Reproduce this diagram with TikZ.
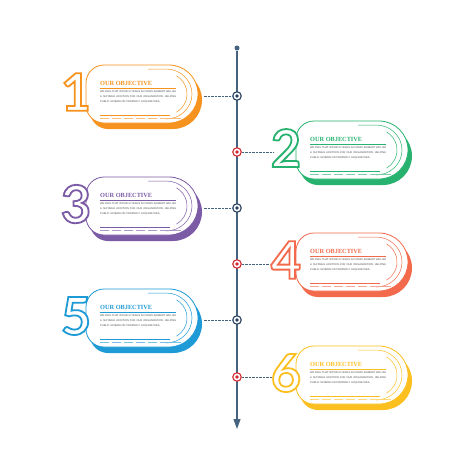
\documentclass[tikz,border=0pt]{standalone}
\usepackage{fontspec}
\setmainfont{Liberation Sans}
\newfontfamily\digitfont{Lato}
\newfontfamily\titlefont{Liberation Serif}
\usetikzlibrary{arrows.meta}
\definecolor{cOrange}{HTML}{F6921E}
\definecolor{cGreen}{HTML}{27B36F}
\definecolor{cPurple}{HTML}{7B5AA6}
\definecolor{cCoral}{HTML}{F26A4B}
\definecolor{cBlue}{HTML}{1E9AD6}
\definecolor{cYellow}{HTML}{FBC020}
\definecolor{lineblue}{HTML}{45627F}
\definecolor{dotnavy}{HTML}{253F5E}
\definecolor{dotred}{HTML}{D3282E}
\definecolor{bodygray}{HTML}{4A4A4A}
\newcommand{\capsule}[3]{(#1+18,#2) -- (#1+83,#2)
  arc[start angle=-90,end angle=90,radius=29] -- (#1+18,#3)
  arc[start angle=90,end angle=180,radius=18] -- (#1,#2+18)
  arc[start angle=180,end angle=270,radius=18] -- cycle}
\newcommand{\hollow}[1]{\special{pdf:literal direct 1 Tr 1.8 w}#1\special{pdf:literal direct 0 Tr}}
\begin{document}
\begin{tikzpicture}[x=1pt,y=-1pt,
    timeline/.style={draw=lineblue,line width=1.1pt},
    topdot/.style={circle,fill=lineblue,inner sep=0,minimum size=5pt},
    ring/.style={circle,draw=#1,fill=white,line width=1.1pt,inner sep=0,minimum size=8.5pt},
    link/.style={draw=lineblue,line width=0.5pt,dash pattern=on 0.7pt off 0.7pt},
    digit/.style={font=\digitfont\bfseries\fontsize{52}{52}\selectfont,inner sep=0},
    title/.style={font=\titlefont\bfseries\fontsize{6.3}{6.3}\selectfont,inner sep=0,anchor=west},
    body/.style={font=\fontsize{2.6}{5}\selectfont,text=bodygray,inner sep=0,
      anchor=north west,text width=76pt,align=justify}]
  \useasboundingbox[fill=white] (0,0) rectangle (474,474);
  \node[topdot] (top) at (237,48) {};
  \coordinate (tip) at (237,429);
  \draw[timeline,-{Triangle[width=7pt,length=10pt]}] (top) -- (tip);
  \foreach \i/\cy/\side/\col/\dot in {1/96/0/cOrange/dotnavy,
      2/152/1/cGreen/dotred, 3/208/0/cPurple/dotnavy,
      4/264/1/cCoral/dotred, 5/320/0/cBlue/dotnavy,
      6/377/1/cYellow/dotred}{
    \pgfmathsetmacro\xo{86+210*\side}
    \pgfmathsetmacro\tp{\cy-31}
    \pgfmathsetmacro\bt{\cy+27}
    \pgfmathsetmacro\ex{\side==0 ? \xo+117 : \xo-22}
    \coordinate (e\i) at (\ex,\cy);
    \node[ring=\dot] (c\i) at (237,\cy) {};
    \fill[\dot] (c\i) circle (1.8);
    \draw[link] (c\i) -- (e\i);
    \begin{scope}[shift={(4,6)}]
      \fill[\col] \capsule{\xo}{\tp}{\bt};
    \end{scope}
    \fill[white] \capsule{\xo}{\tp}{\bt};
    \draw[\col,line width=0.8pt] \capsule{\xo}{\tp}{\bt};
    \draw[\col,line width=0.5pt] (\xo+62,\tp+4) -- (\xo+80,\tp+4)
      arc[start angle=-90,end angle=90,x radius=26,y radius=25];
    \draw[\col,line width=0.5pt] (\xo+80,\cy-2) ++(-60:21)
      arc[start angle=-60,end angle=60,radius=21];
    \node[title,text=\col] (t\i) at (\xo+14,\cy-13) {OUR OBJECTIVE};
    \draw[\col,line width=0.6pt] (\xo+14,\cy-8) -- (\xo+90,\cy-8);
    \node[body] (b\i) at (\xo+14,\cy-5.5) {WE FEEL THAT WITHIN A YEARS
      ACCOMPLISHMENT WILL BE A SUITABLE ADDITION FOR OUR ORGANIZATION,
      HELPING PUBLIC SPHERE OR PROPERLY ACQUIRE IDEA.};
    \draw[\col,line width=0.4pt] (\xo+14,\cy+19) -- (\xo+84,\cy+19);
    \draw[\col!60,line width=0.4pt,dash pattern=on 9pt off 3pt] (\xo+14,\cy+22) -- (\xo+96,\cy+22);
    \node[digit,text=white] (n\i) at (\xo-10,\cy-4) {\i};
    \node[digit,text=\col] at (n\i) {\hollow{\i}};
  }
\end{tikzpicture}
\end{document}
